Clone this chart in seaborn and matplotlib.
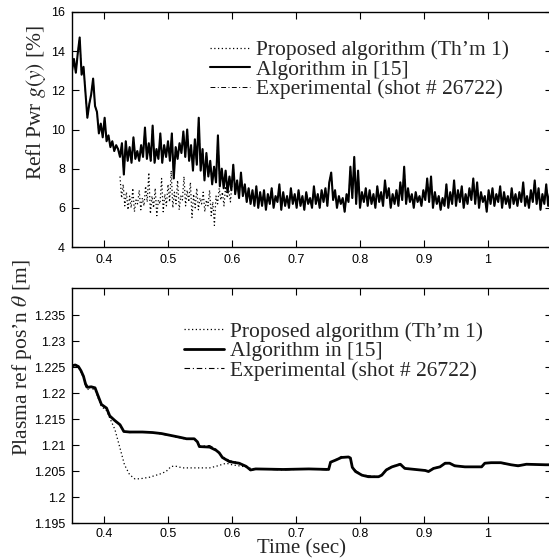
import numpy as np
import pandas as pd
import matplotlib
matplotlib.use("Agg")
import matplotlib.pyplot as plt
from matplotlib.ticker import FuncFormatter
import seaborn as sns

# ---------------- data ----------------
# Top panel: reflected power g(y) [%], uniformly sampled 0.35 .. 1.10 s
refl_t_start, refl_t_end = 0.35, 1.10
refl_algo15 = [
    13.0, 13.6, 12.9, 13.9, 14.7, 12.8, 13.2, 11.9, 10.6, 11.3, 11.8, 12.6, 11.2, 10.9, 9.8, 10.3,
    9.6, 10.6, 9.4, 9.7, 9.1, 9.4, 8.9, 9.2, 9.0, 8.6, 9.3, 7.7, 9.4, 8.4, 9.1, 8.3, 9.6, 8.5, 8.9,
    8.4, 9.2, 8.6, 10.1, 8.5, 9.3, 8.4, 10.2, 8.3, 9.0, 8.5, 9.8, 8.3, 9.2, 8.6, 9.4, 8.4, 9.8, 7.5,
    9.1, 8.5, 9.3, 8.8, 9.9, 8.6, 10.0, 8.4, 9.2, 7.9, 9.5, 8.2, 10.6, 7.9, 9.0, 7.4, 8.8, 7.6, 8.4,
    7.2, 8.1, 7.3, 9.7, 7.1, 8.0, 7.0, 7.9, 6.8, 7.6, 6.9, 8.2, 6.7, 7.4, 6.5, 7.8, 6.6, 7.2, 6.3,
    7.0, 6.2, 6.9, 6.1, 7.1, 6.0, 6.8, 6.1, 6.9, 5.9, 6.7, 6.2, 7.0, 6.0, 6.6, 6.3, 7.2, 5.9, 6.8,
    6.1, 6.6, 6.0, 7.0, 6.2, 6.7, 6.0, 6.9, 6.1, 6.6, 5.9, 6.8, 6.2, 6.5, 6.0, 7.1, 6.2, 6.7, 6.0,
    6.9, 6.3, 7.0, 6.1, 7.3, 7.8, 6.4, 6.9, 6.0, 6.6, 6.2, 6.5, 5.8, 6.7, 6.3, 8.1, 6.5, 8.6, 6.2,
    7.9, 6.0, 6.8, 6.3, 7.0, 6.1, 6.9, 6.2, 6.7, 6.0, 7.1, 6.3, 6.8, 6.1, 7.4, 6.5, 7.0, 6.0, 6.7,
    6.2, 6.9, 6.1, 7.3, 6.4, 8.1, 6.2, 7.0, 6.3, 6.7, 6.0, 6.8, 6.3, 6.6, 6.1, 6.9, 6.4, 7.5, 6.3,
    7.6, 6.0, 6.8, 6.2, 6.6, 5.9, 6.5, 6.1, 7.2, 6.0, 6.8, 6.2, 7.4, 6.1, 6.9, 6.3, 7.1, 6.0, 6.7,
    6.2, 7.0, 6.4, 7.5, 6.2, 7.3, 6.0, 6.8, 6.3, 6.6, 5.8, 6.9, 6.2, 7.0, 6.1, 6.7, 6.3, 7.1, 6.0,
    6.8, 6.2, 6.6, 6.0, 7.0, 6.2, 6.7, 6.1, 6.8, 6.3, 7.3, 6.1, 6.6, 6.0, 6.9, 6.3, 7.4, 6.2, 7.0,
    5.9, 6.7, 6.2, 7.2, 6.1, 6.8, 6.3,
]
# Proposed algorithm deviates only between 0.425 and 0.60 s
refl_prop_t_start, refl_prop_t_end = 0.425, 0.60
refl_proposed = [
    7.6, 6.5, 7.2, 6.1, 6.8, 5.9, 6.6, 6.0, 7.0, 5.8, 6.4, 6.2, 6.9, 5.9, 6.5, 6.1, 7.1, 6.3,
    7.8, 5.7, 6.6, 6.0, 7.0, 5.6, 6.4, 6.2, 7.5, 5.8, 6.7, 6.1, 7.2, 6.3, 7.9, 6.0, 6.8, 6.2,
    7.4, 5.9, 6.6, 6.4, 7.6, 6.1, 6.9, 6.3, 7.3, 5.5, 6.7, 6.0, 7.0, 5.9, 6.5, 6.2, 6.8, 5.8,
    6.4, 6.1, 6.9, 5.6, 6.3, 5.1, 6.6, 6.2, 7.0, 6.4, 6.8, 6.1, 7.1, 6.5, 6.9, 6.3, 7.2,
]

# Bottom panel: plasma reference position theta [m]
pos_t_algo = [0.350, 0.355, 0.360, 0.364, 0.368, 0.371, 0.374, 0.380, 0.386, 0.390, 0.396, 0.404,
              0.409, 0.417, 0.425, 0.431, 0.440, 0.460, 0.476, 0.490, 0.502, 0.518, 0.529, 0.541,
              0.546, 0.549, 0.565, 0.575, 0.580, 0.585, 0.596, 0.611, 0.622, 0.629, 0.637, 0.680,
              0.720, 0.751, 0.754, 0.762, 0.771, 0.782, 0.785, 0.788, 0.793, 0.803, 0.813, 0.829,
              0.834, 0.841, 0.850, 0.863, 0.870, 0.886, 0.902, 0.907, 0.915, 0.925, 0.933, 0.940,
              0.948, 0.964, 0.985, 0.990, 0.995, 1.005, 1.020, 1.036, 1.047, 1.060, 1.090, 1.100]
pos_algo15 = [1.2252, 1.2254, 1.2251, 1.2243, 1.2232, 1.2218, 1.2211, 1.2212, 1.2210, 1.2197,
              1.2178, 1.2171, 1.2156, 1.2147, 1.2139, 1.2126, 1.2125, 1.2125, 1.2124, 1.2122,
              1.2119, 1.2115, 1.2112, 1.2112, 1.2106, 1.2097, 1.2096, 1.2090, 1.2085, 1.2076,
              1.2068, 1.2065, 1.2059, 1.2052, 1.2054, 1.2053, 1.2054, 1.2053, 1.2067, 1.2071,
              1.2076, 1.2077, 1.2075, 1.2057, 1.2049, 1.2042, 1.2039, 1.2039, 1.2042, 1.2052,
              1.2058, 1.2063, 1.2055, 1.2053, 1.2051, 1.2049, 1.2055, 1.2058, 1.2065, 1.2065,
              1.2060, 1.2058, 1.2058, 1.2058, 1.2065, 1.2066, 1.2066, 1.2062, 1.2060, 1.2063,
              1.2062, 1.2062]
pos_experimental = [1.2252, 1.2255, 1.2250, 1.2242, 1.2230, 1.2214, 1.2206, 1.2211, 1.2209, 1.2195,
                    1.2176, 1.2170, 1.2155, 1.2146, 1.2138, 1.2125, 1.2124, 1.2125, 1.2124, 1.2121,
                    1.2118, 1.2114, 1.2111, 1.2112, 1.2104, 1.2098, 1.2099, 1.2092, 1.2084, 1.2078,
                    1.2070, 1.2066, 1.2058, 1.2051, 1.2054, 1.2052, 1.2054, 1.2052, 1.2066, 1.2072,
                    1.2078, 1.2076, 1.2074, 1.2058, 1.2051, 1.2043, 1.2041, 1.2039, 1.2043, 1.2053,
                    1.2059, 1.2064, 1.2056, 1.2053, 1.2051, 1.2050, 1.2056, 1.2058, 1.2064, 1.2065,
                    1.2061, 1.2058, 1.2057, 1.2058, 1.2064, 1.2066, 1.2065, 1.2062, 1.2061, 1.2063,
                    1.2062, 1.2062]
pos_t_prop = [0.350, 0.360, 0.368, 0.374, 0.386, 0.396, 0.404, 0.409, 0.417, 0.425, 0.432, 0.440,
              0.448, 0.456, 0.471, 0.487, 0.497, 0.505, 0.513, 0.523, 0.545, 0.565, 0.575, 0.591,
              0.600, 0.616, 0.630, 0.640]
pos_proposed = [1.2252, 1.2250, 1.2230, 1.2212, 1.2206, 1.2174, 1.2166, 1.2152, 1.2130, 1.2094,
                1.2062, 1.2043, 1.2035, 1.2035, 1.2038, 1.2044, 1.2049, 1.2059, 1.2059, 1.2056,
                1.2056, 1.2056, 1.2059, 1.2065, 1.2062, 1.2059, 1.2055, 1.2054]

legend_labels = ["Proposed algorithm (Th\u2019m 1)", "Algorithm in [15]",
                 "Experimental (shot # 26722)"]
x_ticks = [0.4, 0.5, 0.6, 0.7, 0.8, 0.9, 1.0]
top_yticks = [4, 6, 8, 10, 12, 14, 16]
bot_yticks = [1.195, 1.2, 1.205, 1.21, 1.215, 1.22, 1.225, 1.23, 1.235]

# ---------------- style ----------------
sns.set_style("ticks")
plt.rcParams["font.family"] = ["Liberation Sans", "DejaVu Sans"]
plt.rcParams["mathtext.fontset"] = "stix"
SERIF = ["Liberation Serif", "DejaVu Serif"]
FS = 15.5

fig = plt.figure(figsize=(5.49, 5.58), dpi=100)
W, H = 549.0, 558.0
ax1 = fig.add_axes([72 / W, 1 - 247 / H, 480 / W, 235 / H])
ax2 = fig.add_axes([72 / W, 1 - 523 / H, 480 / W, 235 / H])

DOT = (0, (1, 2))
DASHDOT = (0, (5, 2.5, 1, 2.5))

# ---- top panel ----
t_top = np.linspace(refl_t_start, refl_t_end, len(refl_algo15))
t_prop_top = np.linspace(refl_prop_t_start, refl_prop_t_end, len(refl_proposed))
df_prop = pd.DataFrame({"t": t_prop_top, "v": refl_proposed})
df_algo = pd.DataFrame({"t": t_top, "v": refl_algo15})

sns.lineplot(data=df_prop, x="t", y="v", ax=ax1, color="black", lw=0.9,
             linestyle=DOT, estimator=None, sort=False, label=legend_labels[0])
sns.lineplot(data=df_algo, x="t", y="v", ax=ax1, color="black", lw=1.5,
             estimator=None, sort=False, label=legend_labels[1])
sns.lineplot(data=df_algo, x="t", y="v", ax=ax1, color="black", lw=0.7,
             linestyle=DASHDOT, estimator=None, sort=False, label=legend_labels[2])

# ---- bottom panel ----
df_pp = pd.DataFrame({"t": pos_t_prop, "v": pos_proposed})
df_pa = pd.DataFrame({"t": pos_t_algo, "v": pos_algo15})
df_pe = pd.DataFrame({"t": pos_t_algo, "v": pos_experimental})
sns.lineplot(data=df_pp, x="t", y="v", ax=ax2, color="black", lw=0.9,
             linestyle=DOT, estimator=None, sort=False, label=legend_labels[0])
sns.lineplot(data=df_pa, x="t", y="v", ax=ax2, color="black", lw=2.0,
             estimator=None, sort=False, label=legend_labels[1])
sns.lineplot(data=df_pe, x="t", y="v", ax=ax2, color="black", lw=0.8,
             linestyle=DASHDOT, estimator=None, sort=False, label=legend_labels[2])

fmt = FuncFormatter(lambda v, p: "%g" % round(v, 4))
for ax in (ax1, ax2):
    ax.set_xlim(0.35, 1.10)
    ax.set_xticks(x_ticks)
    ax.xaxis.set_major_formatter(fmt)
    ax.yaxis.set_major_formatter(fmt)
    ax.tick_params(direction="in", top=True, right=True, length=5, width=0.8,
                   labelsize=9, pad=5, colors="black")
    for s in ax.spines.values():
        s.set_visible(True)
        s.set_linewidth(1.0)
        s.set_color("black")
    ax.set_xlabel("")
    ax.set_ylabel("")
ax2.tick_params(axis="x", pad=3.5)

ax1.set_ylim(4, 16)
ax1.set_yticks(top_yticks)
ax2.set_ylim(1.195, 1.2402)
ax2.set_yticks(bot_yticks)

ax1.set_ylabel(r"Refl Pwr $g(y)$ [%]", fontsize=FS, family=SERIF)
ax1.yaxis.set_label_coords(-0.05, 0.613)
ax2.set_ylabel("Plasma ref pos\u2019n $\\theta$ [m]", fontsize=FS, family=SERIF)
ax2.yaxis.set_label_coords(-0.08, 0.706)
ax2.set_xlabel("Time (sec)", fontsize=15, family=SERIF)
ax2.xaxis.set_label_coords(0.479, -0.069)

leg_kw = dict(frameon=False, loc="upper left", borderaxespad=0, borderpad=0,
              handlelength=1.86, handletextpad=0.3, labelspacing=-0.03,
              prop={"family": SERIF, "size": FS})
ax1.legend(bbox_to_anchor=(0.2875, 0.88), **leg_kw)
ax2.legend(bbox_to_anchor=(0.233, 0.856), **leg_kw)

fig.savefig("out.png", dpi=100)
